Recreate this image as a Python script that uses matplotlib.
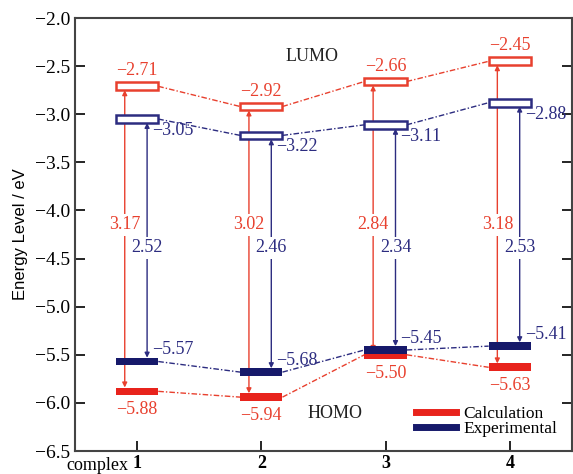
import matplotlib.pyplot as plt
from matplotlib.lines import Line2D

# Frontier orbital energies (eV) for complexes 1-4
complexes = [1, 2, 3, 4]
lumo_calc = [-2.71, -2.92, -2.66, -2.45]
homo_calc = [-5.88, -5.94, -5.50, -5.63]
lumo_exp = [-3.05, -3.22, -3.11, -2.88]
homo_exp = [-5.57, -5.68, -5.45, -5.41]

red = '#e8402e'
red_fill = '#e8231c'
blue = '#2c2c80'
blue_fill = '#16196a'

serif = ['Liberation Serif', 'DejaVu Serif']
plt.rcParams['font.family'] = serif

fig = plt.figure(figsize=(5.73, 4.74), dpi=100)
ax = fig.add_axes([0.131, 0.0485, 0.867, 0.9135])

w = 0.34   # level width
h = 0.08   # level thickness


def fmt(v):
    return '{:.2f}'.format(v).replace('-', '\u2212')


# connecting dash-dot lines between neighbouring levels
dashes = (0, (4, 1.5, 1, 1.5))
for lv, col in [(lumo_calc, red), (homo_calc, red), (lumo_exp, blue), (homo_exp, blue)]:
    for i in range(len(complexes) - 1):
        ax.plot([complexes[i] + w / 2, complexes[i + 1] - w / 2], [lv[i], lv[i + 1]],
                color=col, lw=1.0, linestyle=dashes, zorder=1)

# gap arrows
for i, x in enumerate(complexes):
    xr = x - 0.1
    xb = x + 0.08
    ax.annotate('', xy=(xr, lumo_calc[i] - h / 2), xytext=(xr, homo_calc[i] + h / 2),
                arrowprops=dict(arrowstyle='<|-|>', color=red, lw=1.0, mutation_scale=7,
                                shrinkA=0, shrinkB=0), zorder=2)
    ax.annotate('', xy=(xb, lumo_exp[i] - h / 2), xytext=(xb, homo_exp[i] + h / 2),
                arrowprops=dict(arrowstyle='<|-|>', color=blue, lw=1.0, mutation_scale=7,
                                shrinkA=0, shrinkB=0), zorder=2)
    gap_c = lumo_calc[i] - homo_calc[i]
    gap_e = lumo_exp[i] - homo_exp[i]
    ax.text(xr, -4.15, '{:.2f}'.format(gap_c), color=red, fontsize=13, ha='center', va='center',
            bbox=dict(fc='white', ec='none', pad=1.5), zorder=3)
    ax.text(xb, -4.39, '{:.2f}'.format(gap_e), color=blue, fontsize=13, ha='center', va='center',
            bbox=dict(fc='white', ec='none', pad=1.5), zorder=3)

# LUMO levels: open boxes
ax.bar(complexes, [h] * 4, bottom=[v - h / 2 for v in lumo_calc], width=w,
       facecolor='white', edgecolor=red, lw=1.8, zorder=4)
ax.bar(complexes, [h] * 4, bottom=[v - h / 2 for v in lumo_exp], width=w,
       facecolor='white', edgecolor=blue, lw=1.8, zorder=4)
# HOMO levels: filled bars
ax.bar(complexes, [h] * 4, bottom=[v - h / 2 for v in homo_calc], width=w,
       color=red_fill, zorder=4)
ax.bar(complexes, [h] * 4, bottom=[v - h / 2 for v in homo_exp], width=w,
       color=blue_fill, zorder=5)

# level values
for i, x in enumerate(complexes):
    ax.text(x, lumo_calc[i] + 0.16, fmt(lumo_calc[i]), color=red, fontsize=13,
            ha='center', va='center')
    ax.text(x + 0.12, lumo_exp[i] - 0.12, fmt(lumo_exp[i]), color=blue, fontsize=13,
            ha='left', va='center')
    ax.text(x, homo_calc[i] - 0.19, fmt(homo_calc[i]), color=red, fontsize=13,
            ha='center', va='center')
    ax.text(x + 0.12, homo_exp[i] + 0.12, fmt(homo_exp[i]), color=blue, fontsize=13,
            ha='left', va='center')

ax.text(2.41, -2.40, 'LUMO', fontsize=13, ha='center', va='center', color='#222222')
ax.text(2.59, -6.11, 'HOMO', fontsize=13, ha='center', va='center', color='#222222')

ax.set_xlim(0.5, 4.5)
ax.set_ylim(-6.5, -2.0)
ax.set_xticks(complexes)
ax.set_xticklabels([str(c) for c in complexes], fontweight='bold', fontsize=13)
ax.text(0.93, -0.014, 'complex', transform=ax.get_xaxis_transform(), fontsize=13,
        ha='right', va='top')
ax.set_yticks([-2.0, -2.5, -3.0, -3.5, -4.0, -4.5, -5.0, -5.5, -6.0, -6.5])
ax.tick_params(axis='y', labelsize=14, direction='in', length=7, width=1.2, right=True)
ax.tick_params(axis='x', direction='in', length=7, width=1.2, pad=3)
for s in ax.spines.values():
    s.set_color('#444444')
    s.set_linewidth(1.5)

ax.set_ylabel('Energy Level / eV', family=['Liberation Sans', 'DejaVu Sans'], fontsize=12,
              labelpad=5)

handles = [Line2D([], [], color=red_fill, lw=5), Line2D([], [], color=blue_fill, lw=5)]
ax.legend(handles, ['Calculation', 'Experimental'], loc='lower right', frameon=False,
          fontsize=12.5, handlelength=2.3, handletextpad=0.4, labelspacing=-0.1,
          bbox_to_anchor=(0.995, 0.005), borderpad=0.2)

fig.savefig('out.png', dpi=100)
